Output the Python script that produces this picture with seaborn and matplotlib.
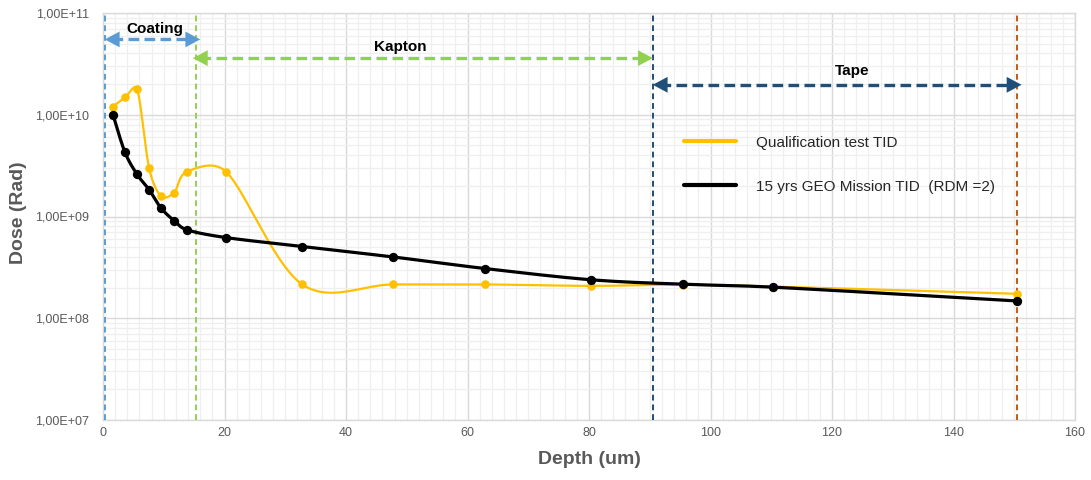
import numpy as np
import pandas as pd
import matplotlib
matplotlib.use("Agg")
import matplotlib.pyplot as plt
import seaborn as sns
from matplotlib.ticker import FixedLocator, FuncFormatter, MultipleLocator, NullFormatter

# ---------------- data ----------------
depth = [1.65, 3.6, 5.6, 7.6, 9.5, 11.7, 13.8, 20.3, 32.8, 47.8, 62.9, 80.3, 95.4, 110.3, 150.4]
dose_qualification = [1.2e10, 1.48e10, 1.8e10, 2.97e9, 1.6e9, 1.72e9, 2.75e9, 2.74e9,
                      2.15e8, 2.15e8, 2.15e8, 2.08e8, 2.14e8, 2.05e8, 1.74e8]
dose_mission = [1.0e10, 4.3e9, 2.6e9, 1.83e9, 1.22e9, 9.1e8, 7.4e8, 6.2e8,
                5.07e8, 4.0e8, 3.08e8, 2.39e8, 2.16e8, 2.02e8, 1.48e8]
series_labels = ["Qualification test TID", "15 yrs GEO Mission TID  (RDM =2)"]

layer_bounds = [0.3, 15.3, 90.5, 150.4]
layer_names = ["Coating", "Kapton", "Tape"]
x_ticks = [0, 20, 40, 60, 80, 100, 120, 140, 160]
y_decades = [7, 8, 9, 10, 11]

# ---------------- style ----------------
sns.set_theme(style="white")
plt.rcParams['font.family'] = ['Liberation Sans', 'DejaVu Sans']

GRAY_TXT = "#595959"
YELLOW = "#FFC000"
BLUE_L = "#5B9BD5"
GREEN = "#92D050"
NAVY = "#1F4E79"
BROWN = "#C55A11"

# approximate screen scale (px per x unit, px per decade) for Excel-like smoothing
SX, SY = 6.075, 101.7


def smooth(x, y, n=40):
    """Excel-like smoothed line: Bezier segments, handles capped at half segment length."""
    pts = np.column_stack([np.asarray(x, float) * SX, np.log10(np.asarray(y, float)) * SY])
    P = np.vstack([pts[0], pts, pts[-1]])
    out = []
    t = np.linspace(0, 1, n, endpoint=False)[:, None]
    for i in range(1, len(P) - 2):
        p0, p1, p2, p3 = P[i - 1], P[i], P[i + 1], P[i + 2]
        seglen = np.linalg.norm(p2 - p1)
        h1 = (p2 - p0) / 6.0
        h2 = (p3 - p1) / 6.0
        for h in (h1, h2):
            ln = np.linalg.norm(h)
            if ln > 0.45 * seglen and ln > 0:
                h *= 0.45 * seglen / ln
        c1 = p1 + h1
        c2 = p2 - h2
        seg = (1 - t) ** 3 * p1 + 3 * (1 - t) ** 2 * t * c1 + 3 * (1 - t) * t ** 2 * c2 + t ** 3 * p2
        out.append(seg)
    out.append(pts[-1:])
    s = np.vstack(out)
    return s[:, 0] / SX, 10 ** (s[:, 1] / SY)


fig = plt.figure(figsize=(10.91, 4.80), dpi=100)
ax = fig.add_axes([103 / 1091, 1 - 420 / 480, (1075 - 103) / 1091, (420 - 13) / 480])
ax.set_yscale("log")
ax.set_xlim(0, 160)
ax.set_ylim(1e7, 1e11)

# grid
ax.xaxis.set_major_locator(FixedLocator(x_ticks))
ax.xaxis.set_minor_locator(MultipleLocator(2))
ax.yaxis.set_major_locator(FixedLocator([10.0 ** d for d in y_decades]))
minor_y = [m * 10.0 ** d for d in y_decades[:-1] for m in range(2, 10)]
ax.yaxis.set_minor_locator(FixedLocator(minor_y))
ax.yaxis.set_minor_formatter(NullFormatter())
ax.yaxis.set_major_formatter(FuncFormatter(lambda v, p: "1,00E+%02d" % int(round(np.log10(v)))))
ax.grid(which="major", color="#D9D9D9", lw=1.0)
ax.grid(which="minor", color="#EFEFEF", lw=0.9)
ax.set_axisbelow(True)
for sp in ax.spines.values():
    sp.set_color("#D9D9D9")
    sp.set_linewidth(1.0)
ax.tick_params(which="both", length=0)
ax.tick_params(axis="x", labelsize=9, colors=GRAY_TXT, pad=5)
ax.tick_params(axis="y", labelsize=9, colors=GRAY_TXT, pad=10)

# series
qx, qy = smooth(depth, dose_qualification)
mx, my = smooth(depth, dose_mission)
sns.lineplot(x=qx, y=qy, ax=ax, color=YELLOW, lw=1.6, sort=False, estimator=None,
             label=series_labels[0], zorder=4)
sns.lineplot(x=mx, y=my, ax=ax, color="black", lw=2.3, sort=False, estimator=None,
             label=series_labels[1], zorder=5)
sns.scatterplot(x=depth, y=dose_qualification, ax=ax, color=YELLOW, s=38, edgecolor=YELLOW,
                linewidth=0, zorder=6, legend=False)
sns.scatterplot(x=depth, y=dose_mission, ax=ax, color="black", s=45, edgecolor="black",
                linewidth=0, zorder=7, legend=False)

# boundaries
bound_colors = [BLUE_L, GREEN, NAVY, BROWN]
for b, c in zip(layer_bounds, bound_colors):
    ax.axvline(b, color=c, lw=1.4, ls=(0, (3, 2)), zorder=3)

# region arrows
arrow_y = [5.5e10, 3.6e10, 1.97e10]
arrow_colors = [BLUE_L, GREEN, NAVY]
label_x = [8.6, 48.9, 123.3]
label_y = [7.0e10, 4.6e10, 2.7e10]
arrow_ranges = [(0.3, 16.0), (14.8, 90.5), (90.5, 151.2)]
for (x0, x1), yv, c, nm, lx, ly in zip(arrow_ranges, arrow_y, arrow_colors, layer_names, label_x, label_y):
    ax.plot([x0 + 1.2, x1 - 1.2], [yv, yv], color=c, lw=2.4, ls=(0, (3.2, 1.6)), zorder=8,
            solid_capstyle="butt", dash_capstyle="butt")
    for xs, xe in [(x0 + 1.5, x0), (x1 - 1.5, x1)]:
        ax.annotate("", xy=(xe, yv), xytext=(xs, yv),
                    arrowprops=dict(arrowstyle="-|>,head_length=0.75,head_width=0.4",
                                    color=c, lw=0.1, shrinkA=0, shrinkB=0,
                                    mutation_scale=14), zorder=9)
    ax.text(lx, ly, nm, ha="center", va="center", fontsize=11, fontweight="bold", color="black")

ax.set_xlabel("Depth (um)", fontsize=14, fontweight="bold", color=GRAY_TXT, labelpad=9)
ax.set_ylabel("Dose (Rad)", fontsize=14, fontweight="bold", color=GRAY_TXT, labelpad=8)
ax.yaxis.set_label_coords(-0.078, 0.51)

leg = ax.legend(loc="upper left", bbox_to_anchor=((670 - 103) / 972, (420 - 122) / 407),
                frameon=False, fontsize=11, handlelength=3.4, handletextpad=1.3,
                labelspacing=1.95)
for h in leg.get_lines():
    h.set_linewidth(3.0)

fig.savefig("out.png", dpi=100)
